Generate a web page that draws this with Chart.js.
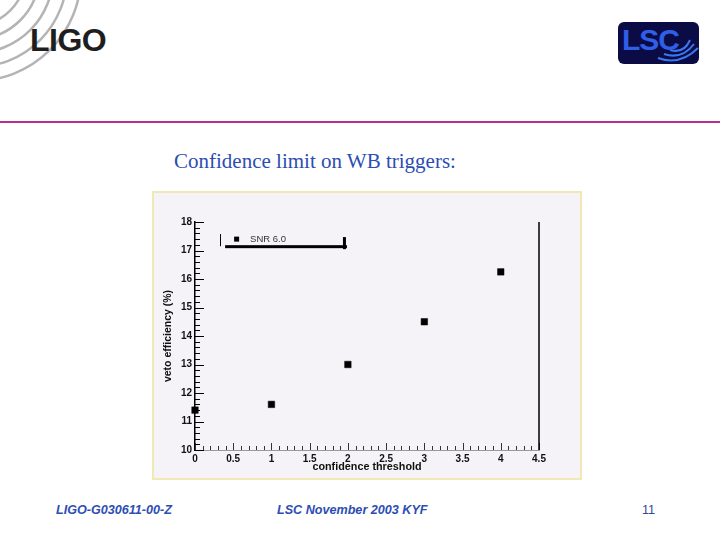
<!DOCTYPE html>
<html>
<head>
<meta charset="utf-8">
<title>Confidence limit on WB triggers</title>
<script src="https://cdn.jsdelivr.net/npm/chart.js@4/dist/chart.umd.min.js"></script>
<style>
  body { margin: 0; width: 720px; height: 540px; background: #fff; position: relative; overflow: hidden;
         font-family: "Liberation Sans", Arial, sans-serif; }
  .abs { position: absolute; }
  #ligoText { left: 30px; top: 22px; font: bold 32px "Liberation Sans", Arial, sans-serif; color: #1e1e1e; letter-spacing: -0.5px; }
  #lscBox { left: 618px; top: 22px; width: 81px; height: 42px; background: #0b0b45; border-radius: 6px; overflow: hidden; }
  #lscText { left: 4px; top: 3px; font: bold 30px "Liberation Sans", Arial, sans-serif; color: #2f5fe6; letter-spacing: -1px; line-height: 30px; }
  #rule { left: 0; top: 121px; width: 720px; height: 2px; background: #b8308f; }
  #slideTitle { left: 174px; top: 151px; font: 21px "Liberation Serif", "Times New Roman", serif; color: #2c4db4; line-height: 21px; white-space: nowrap; }
  #panel { left: 152px; top: 191px; width: 430px; height: 289px; box-sizing: border-box;
           border: 2px solid #f0e9b4; background: #f5f3f7; }
  #chartBox { left: 153px; top: 192px; width: 428px; height: 286px; }
  .foot { top: 503px; font: italic bold 12.6px "Liberation Sans", Arial, sans-serif; color: #2c4db4; line-height: 14px; white-space: nowrap; }
</style>
</head>
<body>

<svg class="abs" style="left:0;top:0" width="140" height="110">
  <g fill="none" stroke="#b4b4b4" stroke-width="2.5">
    <circle cx="-25" cy="-25" r="50"/>
    <circle cx="-25" cy="-25" r="64"/>
    <circle cx="-25" cy="-25" r="78"/>
    <circle cx="-25" cy="-25" r="92"/>
    <circle cx="-25" cy="-25" r="106"/>
  </g>
</svg>
<div id="ligoText" class="abs">LIGO</div>

<div id="lscBox" class="abs">
  <svg class="abs" style="left:0;top:0" width="81" height="42">
    <g fill="none" stroke="#3a78f0" stroke-width="2">
      <path d="M40 36 Q62 44 80 26"/>
      <path d="M46 32 Q64 38 76 22"/>
      <path d="M52 28 Q66 32 72 18"/>
    </g>
  </svg>
  <div id="lscText" class="abs">LSC</div>
</div>

<div id="rule" class="abs"></div>

<div id="slideTitle" class="abs">Confidence limit on WB triggers:</div>

<div id="panel" class="abs"></div>
<div id="chartBox" class="abs"><canvas id="effChart" width="428" height="286"></canvas></div>

<div class="abs foot" style="left:56px">LIGO-G030611-00-Z</div>
<div class="abs foot" style="left:277px">LSC November 2003 KYF</div>
<div class="abs foot" style="left:642px;font-style:normal;font-weight:normal;color:#34489a">11</div>

<script>
// Data
const thresholds = [0, 1, 2, 3, 4];
const vetoEfficiency = [11.4, 11.6, 13.0, 14.5, 16.25];
const seriesLabel = 'SNR 6.0';

// Axis ticks
const xTicks = [0, 0.5, 1, 1.5, 2, 2.5, 3, 3.5, 4, 4.5];
const yTicks = [10, 11, 12, 13, 14, 15, 16, 17, 18];
const xMinorStep = 0.1;
const yMinorStep = 0.2;

const labelFont = { family: 'Liberation Sans', size: 10, weight: 'bold' };
const titleFont = { family: 'Liberation Sans', size: 10.8, weight: 'bold' };

// ROOT style ticks drawn inward, plus the right frame line
const insideTicks = {
    id: 'insideTicks',
    afterDatasetsDraw(chart) {
        const ctx = chart.ctx;
        const xs = chart.scales.x, ys = chart.scales.y;
        const area = chart.chartArea;
        ctx.save();
        ctx.lineWidth = 1;

        // x axis ticks
        ctx.strokeStyle = '#333';
        const xMin = xTicks[0], xMax = xTicks[xTicks.length - 1];
        const nx = Math.round((xMax - xMin) / xMinorStep);
        for (let i = 0; i <= nx; i++) {
            const v = xMin + i * xMinorStep;
            const px = Math.round(xs.getPixelForValue(v)) + 0.5;
            const len = (i % 5 === 0) ? 7 : 4;
            ctx.beginPath();
            ctx.moveTo(px, area.bottom);
            ctx.lineTo(px, area.bottom - len);
            ctx.stroke();
        }

        // y axis ticks
        ctx.strokeStyle = '#000';
        const yMin = yTicks[0], yMax = yTicks[yTicks.length - 1];
        const ny = Math.round((yMax - yMin) / yMinorStep);
        for (let i = 0; i <= ny; i++) {
            const v = yMin + i * yMinorStep;
            const py = Math.round(ys.getPixelForValue(v)) + 0.5;
            const len = (i % 5 === 0) ? 9 : 5;
            ctx.beginPath();
            ctx.moveTo(area.left, py);
            ctx.lineTo(area.left + len, py);
            ctx.stroke();
        }

        // right frame line
        ctx.lineWidth = 1.5;
        ctx.beginPath();
        ctx.moveTo(xs.getPixelForValue(xMax), ys.getPixelForValue(yMax));
        ctx.lineTo(xs.getPixelForValue(xMax), ys.getPixelForValue(yMin));
        ctx.stroke();
        ctx.restore();
    }
};

// Legend box in the ROOT look (side borders + drop shadow)
const rootLegend = {
    id: 'rootLegend',
    afterDraw(chart) {
        const ctx = chart.ctx;
        const area = chart.chartArea;
        const w = area.right - area.left, h = area.bottom - area.top;
        const left = area.left + w * 0.073;
        const right = area.left + w * 0.433;
        const top = area.top + h * 0.053;
        const bottom = area.top + h * 0.106;
        ctx.save();
        // shadow
        ctx.fillStyle = '#000';
        ctx.fillRect(left + 5, bottom - 1, right - left - 2, 3);
        ctx.fillRect(right - 1, top + 3, 3, bottom - top);
        // side border
        ctx.strokeStyle = '#000';
        ctx.lineWidth = 1;
        ctx.beginPath();
        ctx.moveTo(Math.round(left) + 0.5, top);
        ctx.lineTo(Math.round(left) + 0.5, bottom);
        ctx.stroke();
        // marker and label
        const cy = (top + bottom) / 2 - 1;
        ctx.fillRect(left + 14, cy - 2.5, 5, 5);
        ctx.fillStyle = '#333';
        ctx.font = '9.5px "Liberation Sans", Arial, sans-serif';
        ctx.textBaseline = 'middle';
        ctx.fillText(chart.data.datasets[0].label, left + 30, cy + 0.5);
        ctx.restore();
    }
};

const ctx = document.getElementById('effChart').getContext('2d');
new Chart(ctx, {
    type: 'scatter',
    data: {
        datasets: [{
            label: seriesLabel,
            data: thresholds.map((t, i) => ({ x: t, y: vetoEfficiency[i] })),
            pointStyle: 'rect',
            pointRadius: 4.6,
            backgroundColor: '#000',
            borderColor: '#000',
            borderWidth: 0.5,
            clip: false
        }]
    },
    options: {
        responsive: false,
        animation: false,
        layout: { padding: { top: 30, right: 42, left: 0, bottom: 0 } },
        scales: {
            x: {
                type: 'linear',
                min: xTicks[0],
                max: xTicks[xTicks.length - 1],
                afterBuildTicks: (scale) => { scale.ticks = xTicks.map(v => ({ value: v })); },
                afterFit: (scale) => { scale.height = 28; },
                grid: { display: false, drawTicks: false },
                border: { display: true, color: '#9a9a9a', width: 1 },
                ticks: { font: labelFont, color: '#111', padding: 3, maxRotation: 0, autoSkip: false,
                         callback: (value) => String(value) },
                title: { display: true, text: 'confidence threshold', font: titleFont, color: '#111',
                         padding: { top: 0, bottom: 4.5 } }
            },
            y: {
                type: 'linear',
                min: yTicks[0],
                max: yTicks[yTicks.length - 1],
                afterBuildTicks: (scale) => { scale.ticks = yTicks.map(v => ({ value: v })); },
                afterFit: (scale) => { scale.width = 42; },
                grid: { display: false, drawTicks: false },
                border: { display: true, color: '#000', width: 1.5 },
                ticks: { font: labelFont, color: '#111', padding: 3, autoSkip: false,
                         callback: (value) => String(value) },
                title: { display: true, text: 'veto efficiency (%)', font: { family: 'Liberation Sans', size: 10.5, weight: 'bold' },
                         color: '#111', padding: { top: 8.5, bottom: 0 } }
            }
        },
        plugins: {
            legend: { display: false },
            tooltip: { enabled: false }
        }
    },
    plugins: [insideTicks, rootLegend]
});
</script>
</body>
</html>
